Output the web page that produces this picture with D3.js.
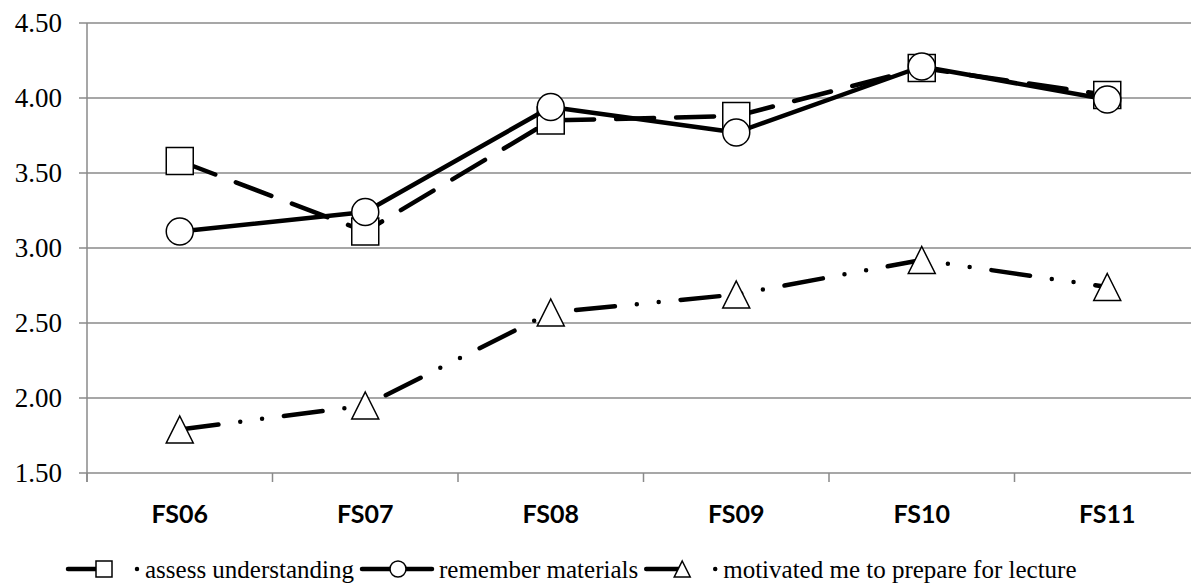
<!DOCTYPE html>
<html lang="en">
<head>
    <meta charset="UTF-8">
    <title>Survey ratings FS06-FS11</title>
    <script src="https://d3js.org/d3.v7.min.js"></script>
    <style>
        body { margin: 0; background: #fff; overflow: hidden; }
        svg { display: block; }
        .ylab { font-family: "Liberation Serif", "Times New Roman", serif; font-size: 27px; fill: #000; }
        .xlab { font-family: Lato, "Open Sans", sans-serif; font-weight: bold; font-size: 25px; fill: #000; }
        .leg { font-family: "Liberation Serif", "Times New Roman", serif; font-size: 25px; fill: #000; }
    </style>
</head>
<body>
<svg id="chart" width="1191" height="586"></svg>
<script>
// data
const categories = ["FS06", "FS07", "FS08", "FS09", "FS10", "FS11"];
const assessUnderstanding = [3.58, 3.11, 3.85, 3.88, 4.20, 4.02];
const rememberMaterials = [3.11, 3.24, 3.94, 3.77, 4.21, 3.99];
const motivatedPrepare = [1.79, 1.95, 2.57, 2.69, 2.92, 2.74];
const yTicks = [1.5, 2.0, 2.5, 3.0, 3.5, 4.0, 4.5];

const series = [
    { name: "assess understanding", values: assessUnderstanding, marker: "square",
      dash: "38 22", legDash: "36 33 0 100" },
    { name: "remember materials", values: rememberMaterials, marker: "circle",
      dash: null, legDash: null },
    { name: "motivated me to prepare for lecture", values: motivatedPrepare, marker: "triangle",
      dash: "39 22 0 22 0 22", legDash: "36 33 0 100" }
];

const svg = d3.select("#chart");
const plotLeft = 87, plotRight = 1200, plotTop = 23, plotBottom = 473;

const x = d3.scaleBand().domain(categories).range([plotLeft, plotRight]).paddingInner(0).paddingOuter(0);
const cx = d => x(d) + x.bandwidth() / 2;
const y = d3.scaleLinear().domain([1.5, 4.5]).range([plotBottom, plotTop]);

// gridlines
svg.append("g").selectAll("line")
    .data(yTicks)
    .join("line")
    .attr("x1", plotLeft - 8).attr("x2", plotRight)
    .attr("y1", d => y(d)).attr("y2", d => y(d))
    .attr("stroke", "#8a8a8a").attr("stroke-width", 1.5);

// y axis line
svg.append("line")
    .attr("x1", plotLeft).attr("x2", plotLeft)
    .attr("y1", plotTop).attr("y2", plotBottom + 9)
    .attr("stroke", "#8a8a8a").attr("stroke-width", 1.5);

// x ticks between categories
const bounds = categories.map(c => x(c)).concat([plotRight]);
svg.append("g").selectAll("line")
    .data(bounds)
    .join("line")
    .attr("x1", d => d).attr("x2", d => d)
    .attr("y1", plotBottom).attr("y2", plotBottom + 9)
    .attr("stroke", "#8a8a8a").attr("stroke-width", 1.5);

// y labels
svg.append("g").selectAll("text")
    .data(yTicks)
    .join("text")
    .attr("class", "ylab")
    .attr("x", 62)
    .attr("y", d => y(d) + 9)
    .attr("text-anchor", "end")
    .text(d3.format(".2f"));

// x labels
svg.append("g").selectAll("text")
    .data(categories)
    .join("text")
    .attr("class", "xlab")
    .attr("x", cx)
    .attr("y", 523)
    .attr("text-anchor", "middle")
    .text(d => d);

function drawMarker(g, type, size) {
    const h = size / 2;
    let m;
    if (type === "square") {
        m = g.append("rect").attr("x", -h).attr("y", -h).attr("width", size).attr("height", size);
    } else if (type === "circle") {
        m = g.append("circle").attr("r", h);
    } else {
        m = g.append("path").attr("d", `M0,${-h} L${h},${h} L${-h},${h} Z`);
    }
    m.attr("fill", "#fff").attr("stroke", "#000").attr("stroke-width", 1.5);
}

const line = d3.line().x((d, i) => cx(categories[i])).y(d => y(d));

series.forEach(s => {
    svg.append("path")
        .datum(s.values)
        .attr("d", line)
        .attr("fill", "none")
        .attr("stroke", "#000")
        .attr("stroke-width", 4.5)
        .attr("stroke-linecap", "round")
        .attr("stroke-linejoin", "round")
        .attr("stroke-dasharray", s.dash);

    s.values.forEach((v, i) => {
        const g = svg.append("g").attr("transform", `translate(${cx(categories[i])},${y(v)})`);
        drawMarker(g, s.marker, 27);
    });
});

// legend
const legY = 569;
let lx = 68;
const legend = svg.append("g");
series.forEach(s => {
    const sampleW = 70;
    legend.append("line")
        .attr("x1", lx).attr("x2", lx + sampleW)
        .attr("y1", legY).attr("y2", legY)
        .attr("stroke", "#000").attr("stroke-width", 4.5)
        .attr("stroke-linecap", "round")
        .attr("stroke-dasharray", s.legDash);
    const g = legend.append("g").attr("transform", `translate(${lx + 36},${legY})`);
    drawMarker(g, s.marker, 16);
    const t = legend.append("text")
        .attr("class", "leg")
        .attr("x", lx + sampleW + 7)
        .attr("y", legY + 9)
        .text(s.name);
    lx += sampleW + 7 + t.node().getComputedTextLength() + 8;
});
</script>
</body>
</html>
